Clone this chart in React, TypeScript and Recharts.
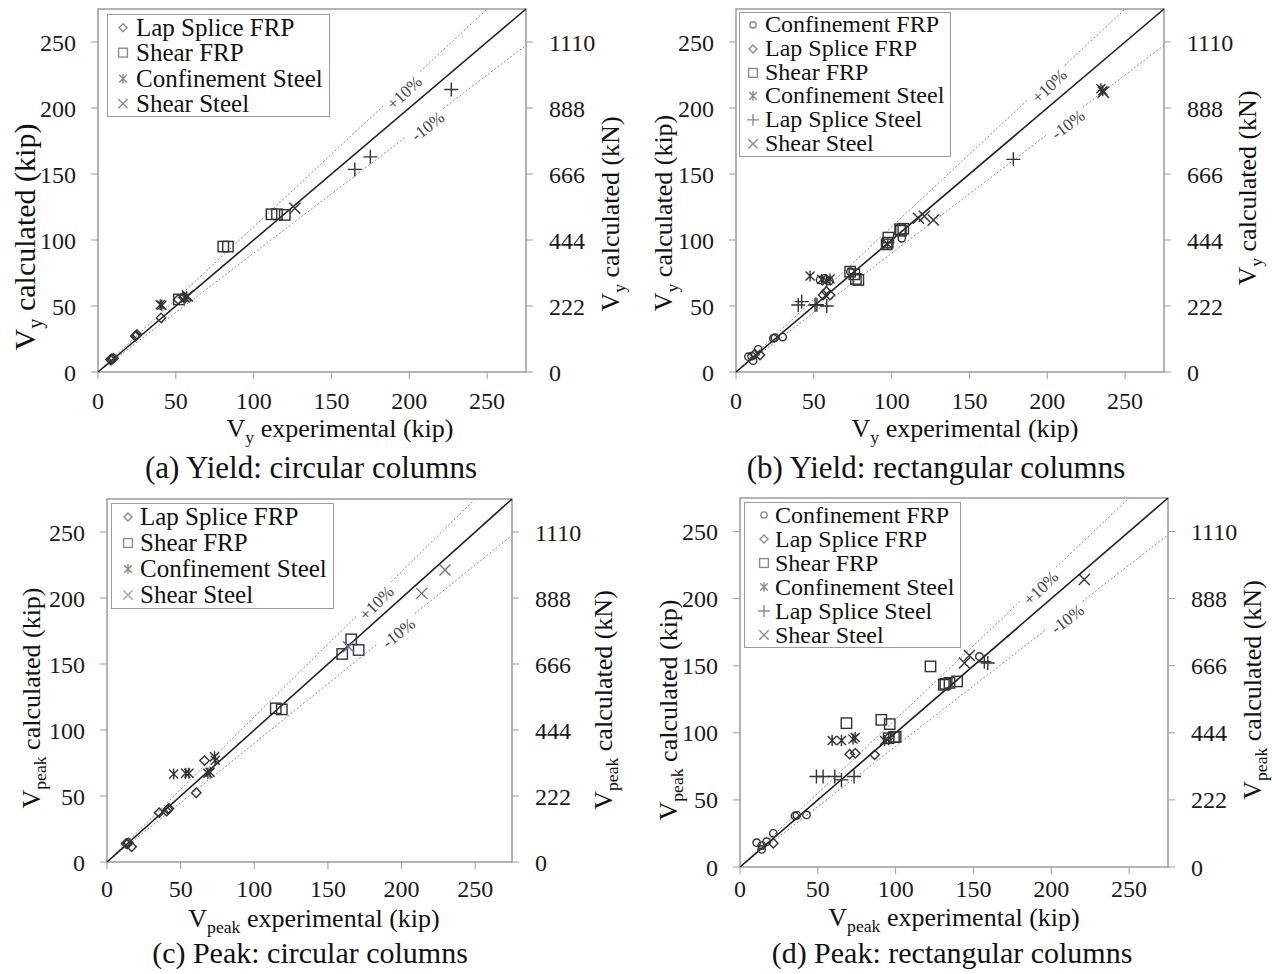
import React from 'react'
import {
    ScatterChart, Scatter, XAxis, YAxis, ReferenceLine, ReferenceArea, ReferenceDot, Legend
} from 'recharts'

const FONT = 'Liberation Serif, Tinos, Times New Roman, Times, DejaVu Serif, serif'
const AX = 275
const KN = 4.44
const kipTicks = [0, 50, 100, 150, 200, 250]
const knTicks = [0, 222, 444, 666, 888, 1110]

// (a) yield, circular columns
const aLapFRP = [[8, 9.5], [9, 10], [10, 10.5], [8.5, 9], [24.5, 27.5], [25, 28.5], [24, 27], [40.5, 41], [51.5, 55], [55, 56.5]]
const aShearFRP = [[80.5, 95], [83.5, 95], [111.5, 119.5], [115, 119.5], [120, 119], [52, 55]]
const aConfSteel = [[41, 50.5], [40, 51], [57, 57], [56, 56]]
const aShearSteel = [[126.5, 124], [57.5, 57.5]]
const aShearSteelPlus = [[165, 153.5], [175, 163], [227, 214]]

// (b) yield, rectangular columns
const bConfFRP = [[8, 11.6], [11, 8.6], [14.3, 17.2], [10, 12], [24, 25.5], [25, 26], [30, 26.5], [54, 69.7], [57, 71], [106.5, 101.3], [73.5, 76], [60, 69]]
const bLapFRP = [[15.4, 12.9], [56, 58.3], [60.4, 58.3], [58, 61], [12, 13.5]]
const bShearFRP = [[105.4, 108.1], [107.5, 108.5], [106, 107], [97.9, 101.8], [96.8, 96.7], [97.5, 98], [78.6, 69.7], [77, 70.5], [73.3, 76], [76, 74]]
const bConfSteel = [[47.6, 72.7], [58.3, 69.2], [60.4, 70.5], [55, 70], [235.7, 213.1], [234.5, 214.5], [97.5, 97]]
const bLapSteel = [[42.2, 53.3], [40, 50.8], [50.8, 50.8], [58.3, 50], [52, 51], [178.2, 161.1]]
const bShearSteel = [[117.2, 116.4], [126.8, 115.2], [121, 118], [236, 212]]

// (c) peak, circular columns
const cLapFRP = [[13.7, 13.6], [16.7, 11.6], [14.5, 14.5], [13, 14], [35.4, 37.4], [41.4, 39.9], [40.5, 38.5], [42, 40.5], [60.6, 52.5], [66.2, 76.8]]
const cShearFRP = [[114.6, 116.4], [118.7, 115.6], [159.7, 157.6], [165.8, 168.7], [170.9, 160.6]]
const cConfSteel = [[45.3, 66.7], [53.4, 67.2], [55.6, 67.2], [68.5, 67.2], [70, 68], [73, 79.8], [73.5, 77]]
const cShearSteel = [[213.7, 203.5], [229.5, 221.2], [164, 163]]

// (d) peak, rectangular columns
const dConfFRP = [[10.7, 18.1], [13.9, 13.1], [17.1, 18.9], [14, 16], [21.4, 25.1], [35.3, 38], [36.5, 38.5], [42.7, 38.8], [153.8, 156.9]]
const dLapFRP = [[21.4, 17.7], [70.5, 84.1], [74.1, 84.8], [86.5, 83.6], [96, 97]]
const dShearFRP = [[122.4, 149.5], [68.4, 107.2], [90.8, 109.7], [96.2, 106.5], [98.9, 96.8], [95.5, 96], [131, 135.8], [134.6, 137.2], [139.5, 138.3], [132, 136.5], [100, 97]]
const dConfSteel = [[59.2, 94.3], [65.2, 94.3], [72.6, 95.3], [74, 96.5], [92.9, 94.3]]
const dLapSteel = [[49.1, 67.4], [53.4, 67.4], [60.9, 67.4], [65.2, 64.9], [73.3, 67.4], [159.2, 152], [157, 153]]
const dShearSteel = [[144.2, 152], [147.4, 157.7], [221.2, 214.2]]

type Kind = 'circle' | 'diamond' | 'square' | 'star' | 'plus' | 'cross'

interface Series { name: string; kind: Kind; data: number[][]; color: string; legend: string; hide?: boolean }

const DARK = '#333'
const LEG = '#8c8c8c'
const PURPLE = '#7466a8'

function Marker({ kind, cx, cy, color, s = 1 }: { kind: Kind; cx: number; cy: number; color: string; s?: number }) {
    const sw = 1.4
    if (kind === 'circle') return <circle cx={cx} cy={cy} r={3.7 * s} fill="none" stroke={color} strokeWidth={sw} />
    if (kind === 'diamond') {
        const d = 4.7 * s
        return <path d={`M${cx},${cy - d}L${cx + d},${cy}L${cx},${cy + d}L${cx - d},${cy}Z`} fill="none" stroke={color} strokeWidth={sw} />
    }
    if (kind === 'square') {
        const d = 5.2 * s
        return <rect x={cx - d} y={cy - d} width={2 * d} height={2 * d} fill="none" stroke={color} strokeWidth={sw} />
    }
    if (kind === 'plus') {
        const d = 7 * s
        return <path d={`M${cx - d},${cy}H${cx + d}M${cx},${cy - d}V${cy + d}`} stroke={color} strokeWidth={sw} />
    }
    if (kind === 'cross') {
        const d = 5.5 * s
        return <path d={`M${cx - d},${cy - d}L${cx + d},${cy + d}M${cx - d},${cy + d}L${cx + d},${cy - d}`} stroke={color} strokeWidth={sw} />
    }
    const d = 4.5 * s
    return <path d={`M${cx - d},${cy - d}L${cx + d},${cy + d}M${cx - d},${cy + d}L${cx + d},${cy - d}M${cx},${cy - d - 1}V${cy + d + 1}`} stroke={color} strokeWidth={sw} />
}

function VText({ x, y, fs, sub, rest, rotate }: { x: number; y: number; fs: number; sub: string; rest: string; rotate?: boolean }) {
    return (
        <text x={x} y={y + fs * 0.33} textAnchor="middle" fontFamily={FONT} fontSize={fs} fill="#111"
            transform={rotate ? `rotate(-90 ${x} ${y})` : undefined}>
            <tspan>V</tspan>
            <tspan dy={fs * 0.25} fontSize={fs * 0.68}>{sub}</tspan>
            <tspan dy={-fs * 0.25}>{rest}</tspan>
        </text>
    )
}

interface Pt { x: number; y: number; fs: number }

interface PanelCfg {
    L: number; T: number; W: number; H: number
    margin: { top: number; left: number; right: number; bottom: number }
    plotW: number; plotH: number; xTickMargin: number
    sub: string; caption: string
    leftTitle: Pt; rightTitle: Pt; xTitle: Pt; cap: Pt
    legend: { x: number; y: number; fs: number; lh: number; mx: number; tx: number }
    plusGap: number[]; minusGap: number[]
    series: Series[]
}

const seriesA: Series[] = [
    { name: 'Lap Splice FRP', kind: 'diamond', data: aLapFRP, color: DARK, legend: LEG },
    { name: 'Shear FRP', kind: 'square', data: aShearFRP, color: DARK, legend: LEG },
    { name: 'Confinement Steel', kind: 'star', data: aConfSteel, color: DARK, legend: LEG },
    { name: 'Shear Steel', kind: 'cross', data: aShearSteel, color: DARK, legend: LEG },
    { name: 'Shear Steel ', kind: 'plus', data: aShearSteelPlus, color: DARK, legend: LEG, hide: true },
]
const seriesB: Series[] = [
    { name: 'Confinement FRP', kind: 'circle', data: bConfFRP, color: DARK, legend: LEG },
    { name: 'Lap Splice FRP', kind: 'diamond', data: bLapFRP, color: DARK, legend: LEG },
    { name: 'Shear FRP', kind: 'square', data: bShearFRP, color: DARK, legend: LEG },
    { name: 'Confinement Steel', kind: 'star', data: bConfSteel, color: DARK, legend: LEG },
    { name: 'Lap Splice Steel', kind: 'plus', data: bLapSteel, color: DARK, legend: LEG },
    { name: 'Shear Steel', kind: 'cross', data: bShearSteel, color: DARK, legend: LEG },
]
const seriesC: Series[] = [
    { name: 'Lap Splice FRP', kind: 'diamond', data: cLapFRP, color: DARK, legend: LEG },
    { name: 'Shear FRP', kind: 'square', data: cShearFRP, color: DARK, legend: LEG },
    { name: 'Confinement Steel', kind: 'star', data: cConfSteel, color: DARK, legend: LEG },
    { name: 'Shear Steel', kind: 'cross', data: cShearSteel, color: PURPLE, legend: '#a79cd0' },
]
const seriesD: Series[] = [
    { name: 'Confinement FRP', kind: 'circle', data: dConfFRP, color: DARK, legend: LEG },
    { name: 'Lap Splice FRP', kind: 'diamond', data: dLapFRP, color: DARK, legend: LEG },
    { name: 'Shear FRP', kind: 'square', data: dShearFRP, color: DARK, legend: LEG },
    { name: 'Confinement Steel', kind: 'star', data: dConfSteel, color: DARK, legend: LEG },
    { name: 'Lap Splice Steel', kind: 'plus', data: dLapSteel, color: DARK, legend: LEG },
    { name: 'Shear Steel', kind: 'cross', data: dShearSteel, color: DARK, legend: LEG },
]

const panels: PanelCfg[] = [
    {
        L: 0, T: 0, W: 636, H: 490, margin: { top: 9, left: 28, right: 30, bottom: 18 }, plotW: 428, plotH: 363, xTickMargin: 13,
        sub: 'y', caption: '(a) Yield: circular columns',
        leftTitle: { x: 25, y: 237, fs: 30 }, rightTitle: { x: 610, y: 214, fs: 26 },
        xTitle: { x: 340, y: 428, fs: 26 }, cap: { x: 311, y: 468, fs: 31 },
        legend: { x: 107, y: 14, fs: 25, lh: 25.3, mx: 15, tx: 28 },
        plusGap: [183, 207], minusGap: [198, 222], series: seriesA,
    },
    {
        L: 636, T: 0, W: 636, H: 490, margin: { top: 9, left: 30, right: 28, bottom: 18 }, plotW: 428, plotH: 363, xTickMargin: 13,
        sub: 'y', caption: '(b) Yield: rectangular columns',
        leftTitle: { x: 27, y: 213, fs: 26 }, rightTitle: { x: 611, y: 188, fs: 26 },
        xTitle: { x: 329, y: 428, fs: 26 }, cap: { x: 300, y: 468, fs: 31 },
        legend: { x: 103, y: 12, fs: 24, lh: 23.8, mx: 13, tx: 25 },
        plusGap: [188, 211], minusGap: [200, 223], series: seriesB,
    },
    {
        L: 0, T: 490, W: 636, H: 484, margin: { top: 9, left: 37, right: 44, bottom: 12 }, plotW: 405, plotH: 363, xTickMargin: 11,
        sub: 'peak', caption: '(c) Peak: circular columns',
        leftTitle: { x: 31, y: 208, fs: 26 }, rightTitle: { x: 603, y: 210, fs: 26 },
        xTitle: { x: 314, y: 428, fs: 26 }, cap: { x: 310, y: 463, fs: 30 },
        legend: { x: 111, y: 13, fs: 25, lh: 26, mx: 16, tx: 28 },
        plusGap: [169, 193], minusGap: [183, 209], series: seriesC,
    },
    {
        L: 636, T: 490, W: 636, H: 484, margin: { top: 8, left: 34, right: 24, bottom: 7 }, plotW: 428, plotH: 369, xTickMargin: 6,
        sub: 'peak', caption: '(d) Peak: rectangular columns',
        leftTitle: { x: 32, y: 220, fs: 26 }, rightTitle: { x: 616, y: 200, fs: 26 },
        xTitle: { x: 318, y: 427, fs: 26 }, cap: { x: 316, y: 463, fs: 30 },
        legend: { x: 108, y: 12, fs: 24, lh: 24, mx: 19, tx: 30 },
        plusGap: [180, 203], minusGap: [197, 220], series: seriesD,
    },
]

const tickStyle = { fill: '#1a1a1a', fontSize: 24, fontFamily: FONT }
const GRAY = '#9c9c9c'

function pctLabel(text: string, angle: number) {
    return (p: any) => {
        const vb = p.viewBox || {}
        const x = (vb.x || 0) + (vb.width || 0) / 2 + 3
        const y = (vb.y || 0) + (vb.height || 0) / 2 + 4
        return (
            <text x={x} y={y} textAnchor="middle" dominantBaseline="central" fontFamily={FONT} fontSize={17} fill="#444"
                transform={`rotate(${-angle} ${x} ${y})`}>{text}</text>
        )
    }
}

function Panel({ cfg }: { cfg: PanelCfg }) {
    const sx = cfg.plotW / AX
    const sy = cfg.plotH / AX
    const angP = (Math.atan(1.1 * sy / sx) * 180) / Math.PI
    const angM = (Math.atan(0.9 * sy / sx) * 180) / Math.PI
    const [p1, p2] = cfg.plusGap
    const [m1, m2] = cfg.minusGap
    const lg = cfg.legend

    const renderLegend = () => (
        <div style={{
            border: `1.5px solid ${GRAY}`, background: '#fff', paddingRight: 6,
            fontFamily: FONT, fontSize: lg.fs, color: '#111',
        }}>
            {cfg.series.filter(s => !s.hide).map(s => (
                <div key={s.name} style={{ display: 'flex', alignItems: 'center', height: lg.lh, whiteSpace: 'nowrap' }}>
                    <svg width={lg.tx} height={lg.lh} style={{ flex: 'none' }}>
                        <Marker kind={s.kind} cx={lg.mx} cy={lg.lh / 2} color={s.legend} s={0.85} />
                    </svg>
                    <span style={{ lineHeight: `${lg.lh}px` }}>{s.name}</span>
                </div>
            ))}
        </div>
    )

    return (
        <div style={{ position: 'absolute', left: cfg.L, top: cfg.T }}>
            <ScatterChart width={cfg.W} height={cfg.H} margin={cfg.margin}>
                <XAxis
                    type="number" dataKey="x" domain={[0, AX]} ticks={kipTicks} interval={0} allowDataOverflow
                    axisLine={false} tickLine={{ stroke: GRAY }} tickSize={7} tickMargin={cfg.xTickMargin} height={100}
                    tick={tickStyle}
                    label={() => (
                        <g>
                            <VText x={cfg.xTitle.x} y={cfg.xTitle.y} fs={cfg.xTitle.fs} sub={cfg.sub} rest=" experimental (kip)" />
                            <text x={cfg.cap.x} y={cfg.cap.y + cfg.cap.fs * 0.33} textAnchor="middle" fontFamily={FONT} fontSize={cfg.cap.fs} fill="#111">
                                {cfg.caption}
                            </text>
                        </g>
                    )}
                />
                <YAxis
                    yAxisId="kip" type="number" dataKey="y" domain={[0, AX]} ticks={kipTicks} interval={0} allowDataOverflow
                    axisLine={false} tickLine={{ stroke: GRAY }} tickSize={7} tickMargin={15} width={70}
                    tick={tickStyle}
                    label={() => <VText x={cfg.leftTitle.x} y={cfg.leftTitle.y} fs={cfg.leftTitle.fs} sub={cfg.sub} rest=" calculated (kip)" rotate />}
                />
                <YAxis
                    yAxisId="kn" orientation="right" type="number" domain={[0, AX * KN]} ticks={knTicks} interval={0} allowDataOverflow
                    axisLine={false} tickLine={{ stroke: GRAY }} tickSize={7} tickMargin={16} width={80}
                    tick={tickStyle}
                    label={() => <VText x={cfg.rightTitle.x} y={cfg.rightTitle.y} fs={cfg.rightTitle.fs} sub={cfg.sub} rest=" calculated (kN)" rotate />}
                />
                <ReferenceArea yAxisId="kip" x1={0} x2={AX} y1={0} y2={AX} fill="none" fillOpacity={0} stroke={GRAY} strokeWidth={1.5} />
                <ReferenceLine yAxisId="kip" segment={[{ x: 0, y: 0 }, { x: p1, y: 1.1 * p1 }]} stroke="#8a8a8a" strokeDasharray="2 2" strokeWidth={1} />
                <ReferenceLine yAxisId="kip" segment={[{ x: p2, y: 1.1 * p2 }, { x: AX / 1.1, y: AX }]} stroke="#8a8a8a" strokeDasharray="2 2" strokeWidth={1} />
                <ReferenceLine yAxisId="kip" segment={[{ x: 0, y: 0 }, { x: m1, y: 0.9 * m1 }]} stroke="#8a8a8a" strokeDasharray="2 2" strokeWidth={1} />
                <ReferenceLine yAxisId="kip" segment={[{ x: m2, y: 0.9 * m2 }, { x: AX, y: 0.9 * AX }]} stroke="#8a8a8a" strokeDasharray="2 2" strokeWidth={1} />
                <ReferenceLine yAxisId="kip" segment={[{ x: 0, y: 0 }, { x: AX, y: AX }]} stroke="#1e1e1e" strokeWidth={1.6} />
                <ReferenceDot yAxisId="kip" x={(p1 + p2) / 2} y={1.1 * (p1 + p2) / 2} r={0} fill="none" stroke="none" label={pctLabel('+10%', angP)} />
                <ReferenceDot yAxisId="kip" x={(m1 + m2) / 2} y={0.9 * (m1 + m2) / 2} r={0} fill="none" stroke="none" label={pctLabel('-10%', angM)} />
                {cfg.series.map(s => (
                    <Scatter
                        key={s.name}
                        yAxisId="kip"
                        name={s.name}
                        data={s.data.map(([x, y]) => ({ x, y }))}
                        legendType={s.hide ? 'none' : 'square'}
                        fill={s.color}
                        isAnimationActive={false}
                        shape={(p: any) => <Marker kind={s.kind} cx={p.cx} cy={p.cy} color={s.color} />}
                    />
                ))}
                <Legend
                    layout="vertical" align="center" verticalAlign="middle"
                    wrapperStyle={{ left: lg.x, top: lg.y, width: 'auto', height: 'auto' }}
                    content={renderLegend}
                />
            </ScatterChart>
        </div>
    )
}

export default function App() {
    return (
        <div style={{ position: 'absolute', left: 0, top: 0, width: 1272, height: 974, background: '#fff' }}>
            {panels.map((p, i) => <Panel key={i} cfg={p} />)}
        </div>
    )
}
